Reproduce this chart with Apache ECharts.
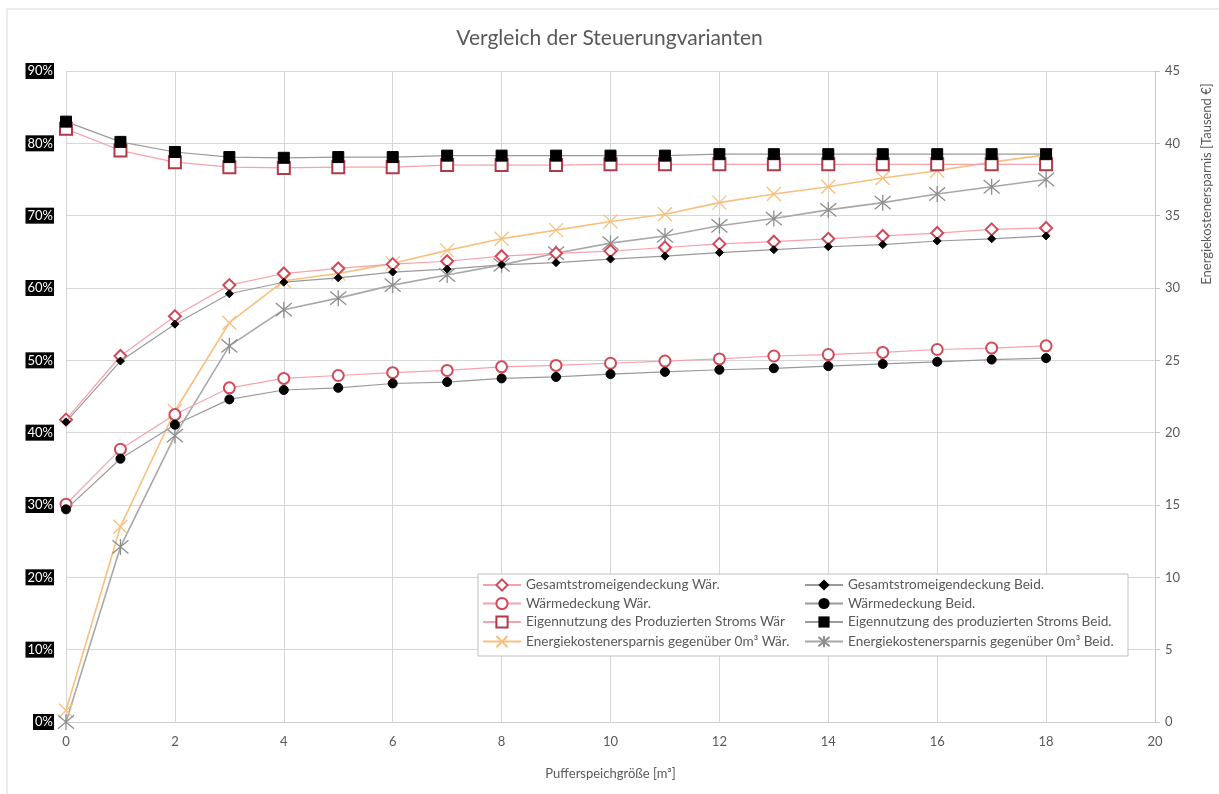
<!DOCTYPE html>
<html>
<head>
<meta charset="utf-8">
<script src="https://cdn.jsdelivr.net/npm/echarts@6/dist/echarts.min.js"></script>
<style>
  html, body { margin: 0; padding: 0; background: #fff; }
  #chart { width: 1219px; height: 794px; }
</style>
</head>
<body>
<div id="chart"></div>
<script>
// Buffer storage size [m³]
const volumes = [0, 1, 2, 3, 4, 5, 6, 7, 8, 9, 10, 11, 12, 13, 14, 15, 16, 17, 18];

// Shares in percent (left axis)
const gesamtWaer  = [41.8, 50.6, 56.1, 60.4, 62.0, 62.7, 63.3, 63.7, 64.4, 64.8, 65.1, 65.6, 66.1, 66.4, 66.8, 67.2, 67.6, 68.1, 68.3];
const gesamtBeid  = [41.5, 49.9, 55.0, 59.2, 60.8, 61.4, 62.2, 62.6, 63.2, 63.5, 64.0, 64.4, 64.9, 65.3, 65.7, 66.0, 66.5, 66.8, 67.2];
const waermeWaer  = [30.1, 37.7, 42.5, 46.2, 47.5, 47.9, 48.3, 48.6, 49.1, 49.3, 49.6, 49.9, 50.2, 50.6, 50.8, 51.1, 51.5, 51.7, 52.0];
const waermeBeid  = [29.4, 36.4, 41.1, 44.6, 45.9, 46.2, 46.8, 47.0, 47.5, 47.7, 48.1, 48.4, 48.7, 48.9, 49.2, 49.5, 49.8, 50.1, 50.3];
const eigenWaer   = [82.0, 79.0, 77.4, 76.7, 76.6, 76.7, 76.7, 77.0, 77.0, 77.0, 77.1, 77.1, 77.1, 77.1, 77.1, 77.1, 77.1, 77.1, 77.1];
const eigenBeid   = [83.0, 80.2, 78.8, 78.1, 78.0, 78.1, 78.1, 78.3, 78.3, 78.3, 78.3, 78.3, 78.5, 78.5, 78.5, 78.5, 78.5, 78.5, 78.5];

// Energy cost savings in thousand € (right axis)
const ersparnisWaer = [0.8, 13.5, 21.5, 27.6, 30.5, 31.0, 31.7, 32.6, 33.4, 34.0, 34.6, 35.1, 35.9, 36.5, 37.0, 37.6, 38.1, 38.7, 39.2];
const ersparnisBeid = [0.0, 12.1, 19.8, 26.0, 28.5, 29.3, 30.2, 30.9, 31.6, 32.4, 33.1, 33.6, 34.3, 34.8, 35.4, 35.9, 36.5, 37.0, 37.5];

const seriesNames = [
  'Gesamtstromeigendeckung Wär.',
  'Gesamtstromeigendeckung Beid.',
  'Wärmedeckung Wär.',
  'Wärmedeckung Beid.',
  'Eigennutzung des Produzierten Stroms Wär',
  'Eigennutzung des produzierten Stroms Beid.',
  'Energiekostenersparnis gegenüber 0m³ Wär.',
  'Energiekostenersparnis gegenüber 0m³ Beid.'
];

const FONT = 'Lato, "Open Sans", sans-serif';
const TEXT = '#595959';
const RED = '#d04a5a';
const PINK = '#f6a2ab';
const GREY_LINE = '#9a9a9a';
const ORANGE = '#f8c07e';
const ASTER = '#8e8e8e';

const crossPath = 'path://M0,0L10,10M10,0L0,10';
const asteriskPath = 'path://M0,0L10,10M10,0L0,10M5,-1L5,11';

function pairs(vals) { return vals.map((v, i) => [volumes[i], v]); }

function lineSeries(name, vals, opts) {
  return Object.assign({
    name: name,
    type: 'line',
    data: pairs(vals),
    yAxisIndex: 0,
    smooth: false,
    lineStyle: { width: 1.3 },
    emphasis: { disabled: true }
  }, opts);
}

const series = [
  lineSeries(seriesNames[6], ersparnisWaer, {
    yAxisIndex: 1, symbol: crossPath, symbolSize: 14,
    lineStyle: { width: 1.6, color: ORANGE },
    itemStyle: { color: 'none', borderColor: ORANGE, borderWidth: 1.3 }, z: 2
  }),
  lineSeries(seriesNames[7], ersparnisBeid, {
    yAxisIndex: 1, symbol: asteriskPath, symbolSize: 16,
    lineStyle: { width: 1.6, color: '#a8a8a8' },
    itemStyle: { color: 'none', borderColor: ASTER, borderWidth: 1.3 }, z: 2
  }),
  lineSeries(seriesNames[0], gesamtWaer, {
    symbol: 'emptyDiamond', symbolSize: 12,
    lineStyle: { width: 1.2, color: PINK },
    itemStyle: { color: RED, borderColor: RED, borderWidth: 1.2 }, z: 3
  }),
  lineSeries(seriesNames[1], gesamtBeid, {
    symbol: 'diamond', symbolSize: 8,
    lineStyle: { width: 1.2, color: GREY_LINE },
    itemStyle: { color: '#000', borderColor: '#000' }, z: 4
  }),
  lineSeries(seriesNames[2], waermeWaer, {
    symbol: 'emptyCircle', symbolSize: 11,
    lineStyle: { width: 1.2, color: PINK },
    itemStyle: { color: RED, borderColor: RED, borderWidth: 1.2 }, z: 3
  }),
  lineSeries(seriesNames[3], waermeBeid, {
    symbol: 'circle', symbolSize: 9,
    lineStyle: { width: 1.2, color: GREY_LINE },
    itemStyle: { color: '#000', borderColor: '#000' }, z: 4
  }),
  lineSeries(seriesNames[4], eigenWaer, {
    symbol: 'emptyRect', symbolSize: 12,
    lineStyle: { width: 1.2, color: PINK },
    itemStyle: { color: '#b03a48', borderColor: '#b03a48', borderWidth: 1.2 }, z: 3
  }),
  lineSeries(seriesNames[5], eigenBeid, {
    symbol: 'rect', symbolSize: 11,
    lineStyle: { width: 1.2, color: GREY_LINE },
    itemStyle: { color: '#000', borderColor: '#000' }, z: 4
  })
];

const legendText = { color: TEXT, fontFamily: FONT, fontSize: 13.6 };

const chart = echarts.init(document.getElementById('chart'), null, { renderer: 'canvas' });
chart.setOption({
  backgroundColor: '#fff',
  animation: false,
  title: {
    text: 'Vergleich der Steuerungvarianten',
    left: 'center',
    top: 23,
    textStyle: { color: TEXT, fontFamily: FONT, fontSize: 21, fontWeight: 'normal' }
  },
  grid: { left: 66, right: 64, top: 71, bottom: 72, containLabel: false },
  graphic: [
    {
      type: 'rect', silent: true, z: -10,
      shape: { x: 7, y: 9, width: 1230, height: 800 },
      style: { fill: 'none', stroke: '#d9d9d9', lineWidth: 1 }
    },
    {
      type: 'rect', silent: true, z: 3,
      shape: { x: 478, y: 574, width: 650, height: 82 },
      style: { fill: '#fff', stroke: '#bfbfbf', lineWidth: 1 }
    },
    {
      type: 'text', silent: true,
      x: 1207, y: 184, rotation: Math.PI / 2,
      style: {
        text: 'Energiekostenersparnis [Tausend €]',
        fill: TEXT, font: '13px ' + FONT,
        align: 'center', verticalAlign: 'middle'
      }
    }
  ],
  legend: [
    {
      data: [seriesNames[0], seriesNames[2], seriesNames[4], seriesNames[6]],
      orient: 'vertical', left: 477, top: 573, itemGap: 4.5,
      itemWidth: 38, itemHeight: 14, textStyle: legendText, selectedMode: false, z: 5
    },
    {
      data: [seriesNames[1], seriesNames[3], seriesNames[5], seriesNames[7]],
      orient: 'vertical', left: 799, top: 573, itemGap: 4.5,
      itemWidth: 38, itemHeight: 14, textStyle: legendText, selectedMode: false, z: 5
    }
  ],
  xAxis: {
    type: 'value',
    min: 0, max: 20, interval: 2,
    name: 'Pufferspeichgröße [m³]',
    nameLocation: 'middle', nameGap: 45,
    nameTextStyle: { color: TEXT, fontFamily: FONT, fontSize: 13 },
    axisLine: { show: true, lineStyle: { color: '#d0d0d0' } },
    axisTick: { show: false },
    axisLabel: { color: TEXT, fontFamily: FONT, fontSize: 13, margin: 13 },
    splitLine: { show: true, lineStyle: { color: '#d6d6d6' } }
  },
  yAxis: [
    {
      type: 'value', position: 'left',
      min: 0, max: 90, interval: 10,
      axisLine: { show: false },
      axisTick: { show: false },
      axisLabel: {
        formatter: '{value}%', color: '#fff', backgroundColor: '#000',
        fontFamily: FONT, fontSize: 13, padding: [2, 1, 1, 2], margin: 12
      },
      splitLine: { show: true, lineStyle: { color: '#d6d6d6' } }
    },
    {
      type: 'value', position: 'right',
      min: 0, max: 45, interval: 5,
      axisLine: { show: true, lineStyle: { color: '#c8c8c8' } },
      axisTick: { show: true, inside: false, length: 5, lineStyle: { color: '#c8c8c8' } },
      axisLabel: { color: TEXT, fontFamily: FONT, fontSize: 13, margin: 10 },
      splitLine: { show: false }
    }
  ],
  series: series
});
</script>
</body>
</html>
